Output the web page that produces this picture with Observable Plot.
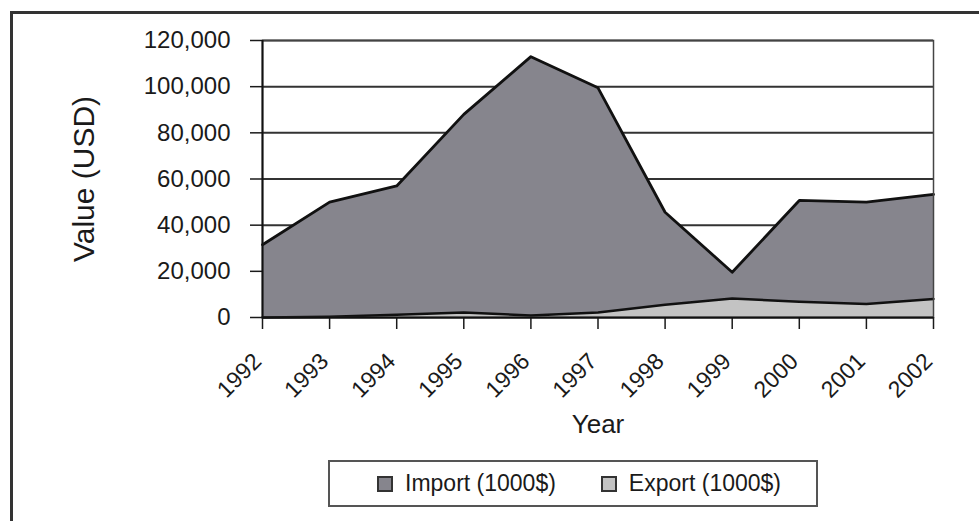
<!DOCTYPE html>
<html>
<head>
<meta charset="utf-8">
<script src="https://cdn.jsdelivr.net/npm/d3@7"></script>
<script src="https://cdn.jsdelivr.net/npm/@observablehq/plot@0.6"></script>
<style>
  html, body { margin: 0; padding: 0; background: #fff; }
  body { width: 979px; height: 521px; position: relative; overflow: hidden; font-family: "Liberation Sans", Arial, sans-serif; }
  #border { position: absolute; left: 10px; top: 11px; width: 1100px; height: 700px; border: 3px solid #333; box-sizing: border-box; }
  #chart { position: absolute; left: 0; top: 0; }
  #chart svg g[aria-label="y-axis label"] text { font-size: 30px; }
  #chart svg g[aria-label="x-axis label"] text { font-size: 26px; }
  #legend { position: absolute; left: 328px; top: 460px; width: 490px; height: 47px; box-sizing: border-box;
            border: 2px solid #555; display: flex; align-items: center; padding-left: 47px; font-size: 23px; color: #1a1a1a; }
  .item { display: flex; align-items: center; }
  .sw { width: 12px; height: 12px; border: 2px solid #333; margin-right: 12px; }
</style>
</head>
<body>
<div id="border"></div>
<div id="chart"></div>
<div id="legend"></div>
<script>
const years = [1992, 1993, 1994, 1995, 1996, 1997, 1998, 1999, 2000, 2001, 2002];
const importValues = [31500, 50000, 57000, 88000, 113000, 99500, 45600, 19600, 50700, 50000, 53300];
const exportValues = [0, 300, 1200, 2200, 900, 2200, 5500, 8200, 6800, 5800, 8000];
const yTicks = [0, 20000, 40000, 60000, 80000, 100000, 120000];
const seriesNames = ["Import (1000$)", "Export (1000$)"];
const seriesColors = ["#86858d", "#c3c3c3"];

const data = years.map((y, i) => ({year: y, imp: importValues[i], exp: exportValues[i]}));

const chart = Plot.plot({
  width: 979,
  height: 445,
  marginLeft: 262,
  marginRight: 46,
  marginTop: 40,
  marginBottom: 128,
  style: {fontFamily: "'Liberation Sans', Arial, sans-serif", fontSize: "24px", color: "#1a1a1a", background: "transparent"},
  x: {domain: [1992, 2002]},
  y: {domain: [0, 120000]},
  marks: [
    Plot.gridY(yTicks, {stroke: "#333", strokeOpacity: 1, strokeWidth: 2}),
    Plot.areaY(data, {x: "year", y: "imp", fill: seriesColors[0]}),
    Plot.areaY(data, {x: "year", y: "exp", fill: seriesColors[1]}),
    Plot.lineY(data, {x: "year", y: "exp", stroke: "#111", strokeWidth: 2.5}),
    Plot.lineY(data, {x: "year", y: "imp", stroke: "#111", strokeWidth: 2.8}),
    Plot.frame({stroke: "#444", strokeWidth: 1.5}),
    Plot.axisY(yTicks, {tickFormat: d => d3.format(",")(d), tickSize: 12, tickPadding: 20, fontSize: 24,
      label: "Value (USD)", labelArrow: "none", labelAnchor: "center", labelOffset: 190, strokeWidth: 1.5}),
    Plot.axisX(years, {tickFormat: () => "", tickSize: 12, strokeWidth: 1.5,
      label: "Year", labelArrow: "none", labelAnchor: "center", labelOffset: 115, fontSize: 23}),
    Plot.axisX(years, {tickFormat: d => String(d), tickSize: 12, tickPadding: 18, tickRotate: -45, fontSize: 23,
      strokeOpacity: 0, dx: -5, dy: 10, label: null}),
    Plot.ruleY([0], {stroke: "#111", strokeWidth: 2}),
    Plot.ruleX([1992], {stroke: "#111", strokeWidth: 2})
  ]
});
document.getElementById("chart").appendChild(chart);

const legend = document.getElementById("legend");
seriesNames.forEach((name, i) => {
  const it = document.createElement("div");
  it.className = "item";
  if (i > 0) it.style.marginLeft = "45px";
  const sw = document.createElement("div");
  sw.className = "sw";
  sw.style.background = seriesColors[i];
  const tx = document.createElement("span");
  tx.textContent = name;
  it.appendChild(sw);
  it.appendChild(tx);
  legend.appendChild(it);
});
</script>
</body>
</html>
